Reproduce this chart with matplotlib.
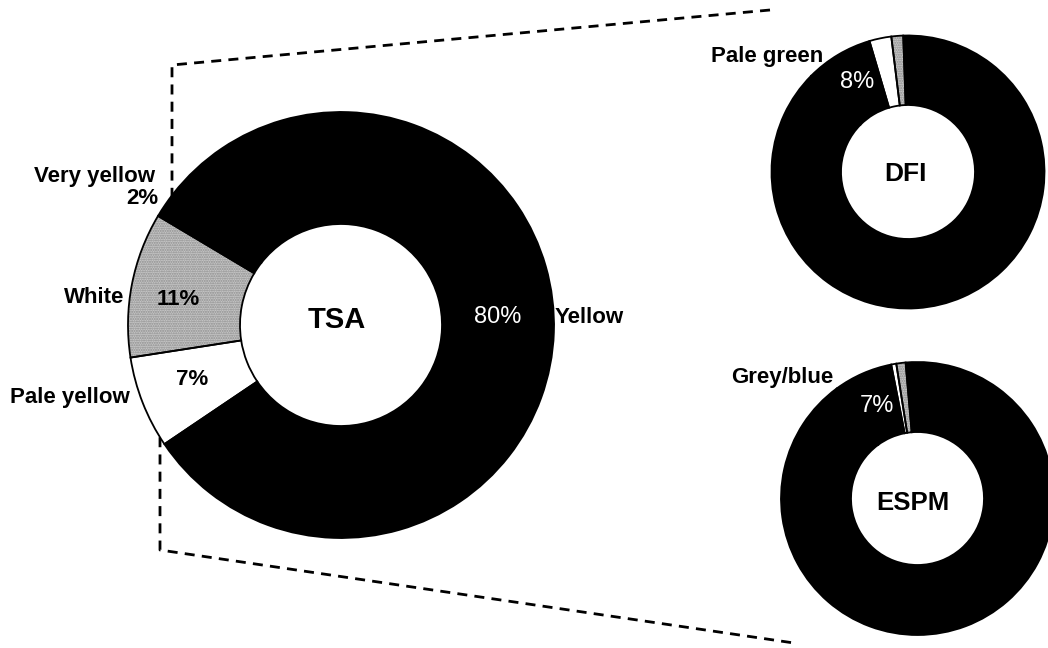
import matplotlib
matplotlib.use("Agg")
import matplotlib.pyplot as plt

# ---------------- data ----------------
tsa_labels = ["Very yellow", "White", "Pale yellow", "Yellow"]
tsa_values = [2, 11, 7, 80]
tsa_colors = ["black", "#c6c6c6", "white", "black"]

dfi_labels = ["grey", "white", "Pale green", "rest"]
dfi_values = [1.4, 2.6, 8, 88]
dfi_colors = ["#c6c6c6", "white", "black", "black"]

espm_labels = ["grey", "white", "Grey/blue", "rest"]
espm_values = [1.1, 0.6, 7, 91.3]
espm_colors = ["#c6c6c6", "white", "black", "black"]

# ---------------- layout ----------------
W, H = 1048, 648
plt.rcParams['font.family'] = ['Liberation Sans', 'DejaVu Sans']

fig = plt.figure(figsize=(W / 100, H / 100), dpi=100)
ax = fig.add_axes([0, 0, 1, 1])


def Y(y):
    return H - y


def donut(values, colors, center, R, r, start):
    wedges, _ = ax.pie(values, colors=colors, startangle=start, counterclock=True,
                       radius=R, center=(center[0], Y(center[1])),
                       wedgeprops=dict(width=R - r, linewidth=0, edgecolor='none'))
    for w, c in zip(wedges, colors):
        w.set_zorder(2)
        if c == "#c6c6c6":
            w.set_hatch('.......')
            w.set_edgecolor('#8c8c8c')
            w.set_linewidth(0)
    outl, _ = ax.pie(values, colors=['none'] * len(values), startangle=start,
                     counterclock=True, radius=R, center=(center[0], Y(center[1])),
                     wedgeprops=dict(width=R - r, linewidth=1.3, edgecolor='black',
                                     facecolor='none'))
    for w in outl:
        w.set_zorder(3)
    return wedges


# dashed connector lines (behind the big donut)
dash = (0, (3.6, 2.6))
ax.plot([770, 172, 172], [Y(10), Y(65), Y(215)], color='black', lw=2.0,
        linestyle=dash, zorder=1, dash_capstyle='butt')
ax.plot([160, 160, 794], [Y(420), Y(550), Y(643)], color='black', lw=2.0,
        linestyle=dash, zorder=1, dash_capstyle='butt')

donut(tsa_values, tsa_colors, (341, 325), 213, 101, 142)
donut(dfi_values, dfi_colors, (908, 172), 136.5, 67, 92)
donut(espm_values, espm_colors, (917.5, 498.5), 136.5, 66.5, 95)

fs = 16
bold = dict(fontweight='bold', zorder=5)
plain = dict(fontweight='normal', zorder=5, color='white')

# TSA labels
ax.text(341 - 4, Y(328), "TSA", fontsize=21, ha='center', va='baseline', **bold)
ax.text(155, Y(182), tsa_labels[0], fontsize=fs, ha='right', va='baseline', **bold)
ax.text(158, Y(204), f"{tsa_values[0]}%", fontsize=fs, ha='right', va='baseline', **bold)
ax.text(124, Y(303), tsa_labels[1], fontsize=fs, ha='right', va='baseline', **bold)
ax.text(178, Y(305), f"{tsa_values[1]}%", fontsize=fs, ha='center', va='baseline', **bold)
ax.text(130, Y(403), tsa_labels[2], fontsize=fs, ha='right', va='baseline', **bold)
ax.text(192, Y(385), f"{tsa_values[2]}%", fontsize=fs, ha='center', va='baseline', **bold)
ax.text(498, Y(323), f"{tsa_values[3]}%", fontsize=fs + 1, ha='center', va='baseline',
        **plain)
ax.text(555, Y(323), tsa_labels[3], fontsize=fs, ha='left', va='baseline', **bold)

# DFI labels
ax.text(905, Y(181), "DFI", fontsize=19, ha='center', va='baseline', **bold)
ax.text(823, Y(62), dfi_labels[2], fontsize=fs, ha='right', va='baseline', **bold)
ax.text(857, Y(88), f"{dfi_values[2]}%", fontsize=fs + 1, ha='center', va='baseline',
        **plain)

# ESPM labels
ax.text(912.5, Y(510), "ESPM", fontsize=18.5, ha='center', va='baseline', **bold)
ax.text(833, Y(383), espm_labels[2], fontsize=fs, ha='right', va='baseline', **bold)
ax.text(877, Y(412), f"{espm_values[2]}%", fontsize=fs + 1, ha='center', va='baseline',
        **plain)

ax.set_xlim(0, W)
ax.set_ylim(0, H)
ax.set_aspect('auto')
ax.axis('off')

fig.savefig("out.png", dpi=100, facecolor='white')
